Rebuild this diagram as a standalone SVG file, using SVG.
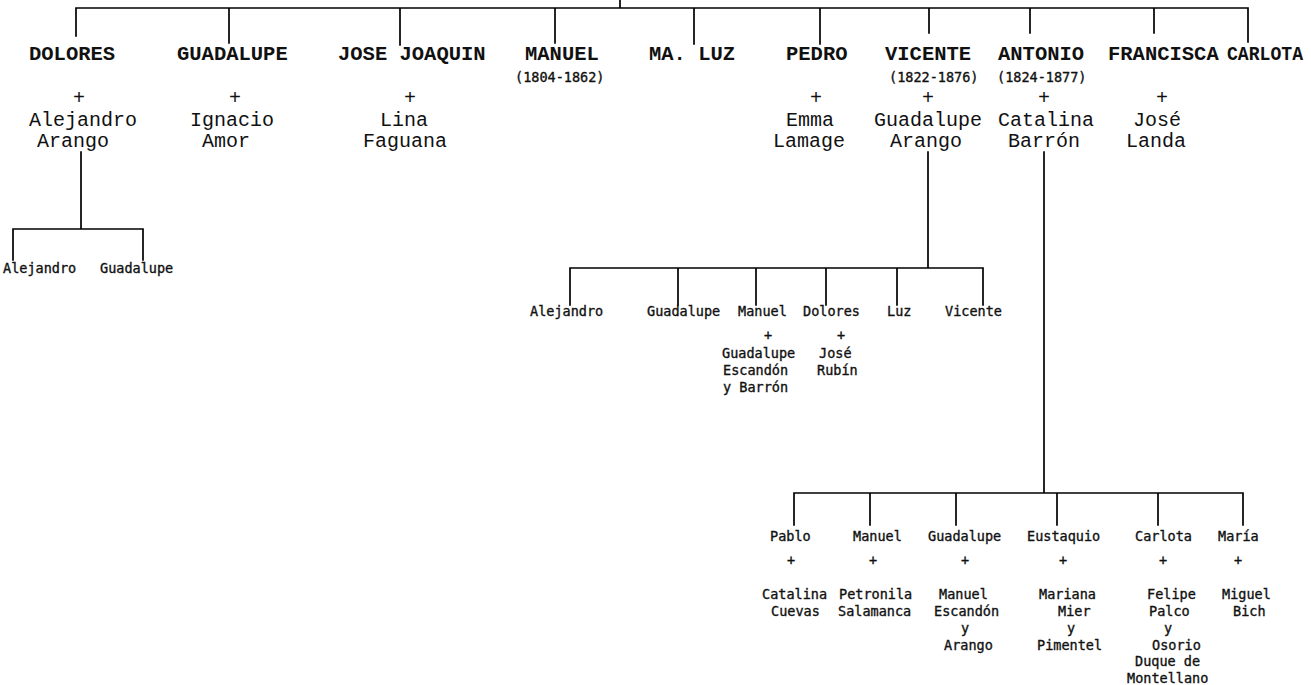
<svg xmlns="http://www.w3.org/2000/svg" width="1311" height="685" viewBox="0 0 1311 685">
<style>
  .ln { stroke: #000; stroke-width: 1.7; fill: none; stroke-linecap: square; }
  .top { font-family: "Liberation Mono", "Courier New", monospace; font-size: 20.5px; font-weight: bold; fill: #111; }
  .sp { font-family: "Liberation Mono", "Courier New", monospace; font-size: 20px; fill: #111; }
  .sm { font-family: "DejaVu Sans Mono", "Liberation Mono", monospace; font-size: 13.5px; fill: #111; stroke: #111; stroke-width: 0.35; }
  .c { text-anchor: middle; }
</style>
<rect x="0" y="0" width="1311" height="685" fill="#fff"/>
<g id="connectors">
  <path class="ln" d="M620 0V8 M76 8H1248 M76 8V36 M229 8V43 M400 8V45 M555 8V43 M694 8V44 M820 8V44 M929 8V33 M1030 8V33 M1154 8V33 M1248 8V42"/>
  <path class="ln" d="M81 152V229 M13 229H143 M13 229V260 M143 229V260"/>
  <path class="ln" d="M928 152V268 M570 268H983 M570 268V305 M678 268V305 M756 268V305 M826 268V305 M897 268V305 M983 268V305"/>
  <path class="ln" d="M1044 152V493 M794 493H1243 M794 493V525 M870 493V525 M956 493V525 M1057 493V525 M1158 493V525 M1243 493V525"/>
</g>
<g id="dolores">
  <text class="top" x="29" y="60">DOLORES</text>
  <text class="sp c" x="79" y="104">+</text>
  <text class="sp" x="29" y="126">Alejandro</text>
  <text class="sp" x="37" y="147">Arango</text>
</g>
<g id="guadalupe">
  <text class="top" x="177" y="60">GUADALUPE</text>
  <text class="sp c" x="235" y="104">+</text>
  <text class="sp" x="190" y="126">Ignacio</text>
  <text class="sp" x="202" y="147">Amor</text>
</g>
<g id="jose-joaquin">
  <text class="top" x="338" y="60">JOSE JOAQUIN</text>
  <text class="sp c" x="410" y="104">+</text>
  <text class="sp" x="380" y="126">Lina</text>
  <text class="sp" x="363" y="147">Faguana</text>
</g>
<g id="manuel">
  <text class="top" x="525" y="60">MANUEL</text>
  <text class="sm" x="515" y="82">(1804-1862)</text>
</g>
<g id="ma-luz">
  <text class="top" x="649" y="60">MA. LUZ</text>
</g>
<g id="pedro">
  <text class="top" x="786" y="60">PEDRO</text>
  <text class="sp c" x="816" y="104">+</text>
  <text class="sp" x="786" y="126">Emma</text>
  <text class="sp" x="773" y="147">Lamage</text>
</g>
<g id="vicente">
  <text class="top" x="885" y="60">VICENTE</text>
  <text class="sm" x="889" y="82">(1822-1876)</text>
  <text class="sp c" x="928" y="104">+</text>
  <text class="sp" x="874" y="126">Guadalupe</text>
  <text class="sp" x="890" y="147">Arango</text>
</g>
<g id="antonio">
  <text class="top" x="998" y="60">ANTONIO</text>
  <text class="sm" x="997" y="82">(1824-1877)</text>
  <text class="sp c" x="1044" y="104">+</text>
  <text class="sp" x="998" y="126">Catalina</text>
  <text class="sp" x="1008" y="147">Barrón</text>
</g>
<g id="francisca">
  <text class="top" x="1108" y="60">FRANCISCA</text>
  <text class="sp c" x="1162" y="104">+</text>
  <text class="sp" x="1133" y="126">José</text>
  <text class="sp" x="1126" y="147">Landa</text>
</g>
<g id="carlota">
  <text class="top" x="1227" y="60" textLength="76" lengthAdjust="spacingAndGlyphs">CARLOTA</text>
</g>
<g id="dolores-children">
  <text class="sm" x="3" y="273">Alejandro</text>
  <text class="sm" x="100" y="273">Guadalupe</text>
</g>
<g id="vicente-children">
  <text class="sm" x="530" y="316">Alejandro</text>
  <text class="sm" x="647" y="316">Guadalupe</text>
  <g id="v-manuel">
    <text class="sm" x="738" y="316">Manuel</text>
    <text class="sm c" x="768" y="340">+</text>
    <text class="sm" x="722" y="358">Guadalupe</text>
    <text class="sm" x="723" y="375">Escandón</text>
    <text class="sm" x="723" y="392">y Barrón</text>
  </g>
  <g id="v-dolores">
    <text class="sm" x="803" y="316">Dolores</text>
    <text class="sm c" x="841" y="340">+</text>
    <text class="sm" x="819" y="358">José</text>
    <text class="sm" x="817" y="375">Rubín</text>
  </g>
  <text class="sm" x="887" y="316">Luz</text>
  <text class="sm" x="945" y="316">Vicente</text>
</g>
<g id="antonio-children">
  <g id="a-pablo">
    <text class="sm" x="770" y="541">Pablo</text>
    <text class="sm c" x="791" y="565">+</text>
    <text class="sm" x="762" y="599">Catalina</text>
    <text class="sm" x="771" y="616">Cuevas</text>
  </g>
  <g id="a-manuel">
    <text class="sm" x="853" y="541">Manuel</text>
    <text class="sm c" x="873" y="565">+</text>
    <text class="sm" x="839" y="599">Petronila</text>
    <text class="sm" x="838" y="616">Salamanca</text>
  </g>
  <g id="a-guadalupe">
    <text class="sm" x="928" y="541">Guadalupe</text>
    <text class="sm c" x="965" y="565">+</text>
    <text class="sm" x="939" y="599">Manuel</text>
    <text class="sm" x="934" y="616">Escandón</text>
    <text class="sm c" x="965" y="633">y</text>
    <text class="sm" x="944" y="650">Arango</text>
  </g>
  <g id="a-eustaquio">
    <text class="sm" x="1027" y="541">Eustaquio</text>
    <text class="sm c" x="1063" y="565">+</text>
    <text class="sm" x="1039" y="599">Mariana</text>
    <text class="sm" x="1058" y="616">Mier</text>
    <text class="sm c" x="1071" y="633">y</text>
    <text class="sm" x="1037" y="650">Pimentel</text>
  </g>
  <g id="a-carlota">
    <text class="sm" x="1135" y="541">Carlota</text>
    <text class="sm c" x="1163" y="565">+</text>
    <text class="sm" x="1147" y="599">Felipe</text>
    <text class="sm" x="1149" y="616">Palco</text>
    <text class="sm c" x="1168" y="633">y</text>
    <text class="sm" x="1152" y="650">Osorio</text>
    <text class="sm" x="1135" y="666">Duque de</text>
    <text class="sm" x="1127" y="683">Montellano</text>
  </g>
  <g id="a-maria">
    <text class="sm" x="1218" y="541">María</text>
    <text class="sm c" x="1238" y="565">+</text>
    <text class="sm" x="1222" y="599">Miguel</text>
    <text class="sm" x="1233" y="616">Bich</text>
  </g>
</g>
</svg>
